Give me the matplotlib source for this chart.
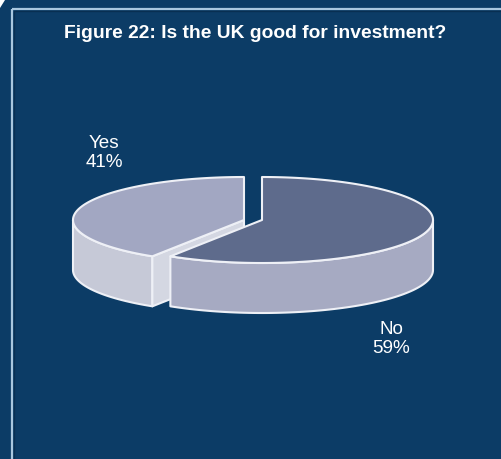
import numpy as np
import matplotlib
matplotlib.use("Agg")
import matplotlib.pyplot as plt
from matplotlib.patches import Polygon, Rectangle

plt.rcParams['font.family'] = ['Liberation Sans', 'DejaVu Sans']

title = "Figure 22: Is the UK good for investment?"
labels = ["Yes", "No"]
values = [41, 59]

bg = "#0c3c66"
top_colors = ["#a2a7c2", "#5e6b8c"]
side_colors = ["#c6c9d7", "#a6aac2"]
face_colors = ["#d4d7e2", "#b4b8cc"]
edge = "#eef0f6"

W, H = 501, 459
fig = plt.figure(figsize=(W / 100, H / 100), dpi=100)
fig.patch.set_facecolor(bg)
ax = fig.add_axes([0, 0, 1, 1])
ax.set_xlim(0, W)
ax.set_ylim(H, 0)
ax.axis("off")

# frame around the panel
ax.add_patch(Rectangle((12, 9), W, H, fill=False, ec="#a9c7df", lw=1.6))
ax.add_patch(Rectangle((14, 11), W, H, fill=False, ec="#082f52", lw=1.0))
ax.add_patch(Polygon([(0, 0), (5, 0), (0, 8)], closed=True, fc="white", ec="none"))

ax.text(255, 33, title, color="white", fontsize=13.9, fontweight="bold",
        ha="center", va="center")

# pie geometry (screen pixels, y down)
cx, cy = 262, 220
a, b = 171, 43
depth = 50
explode = [18, 0]


def pt(x0, th, dy=0):
    return (x0 + a * np.cos(th), cy - b * np.sin(th) + dy)


total = sum(values)
start = np.deg2rad(90)
spans = []
for v in values:
    ext = 2 * np.pi * v / total
    spans.append((start, start + ext))
    start += ext

for i, (t1, t2) in enumerate(spans):
    x0 = cx - explode[i]
    # outer wall, front half only
    lo, hi = max(t1, np.pi), min(t2, 2 * np.pi)
    if hi > lo:
        th = np.linspace(lo, hi, 80)
        upper = [pt(x0, t) for t in th]
        lower = [pt(x0, t, depth) for t in th[::-1]]
        ax.add_patch(Polygon(upper + lower, closed=True, fc=side_colors[i],
                             ec=edge, lw=1.5, joinstyle="round"))
    # radial cut face at the end angle when it faces the viewer
    if np.sin(t2 + np.pi / 2) < 0:
        p = pt(x0, t2)
        face = [(x0, cy), p, (p[0], p[1] + depth), (x0, cy + depth)]
        ax.add_patch(Polygon(face, closed=True, fc=face_colors[i],
                             ec=edge, lw=1.5, joinstyle="round"))
    # top surface
    th = np.linspace(t1, t2, 200)
    top = [(x0, cy)] + [pt(x0, t) for t in th]
    ax.add_patch(Polygon(top, closed=True, fc=top_colors[i],
                         ec=edge, lw=1.5, joinstyle="round"))

label_pos = [(104, 153), (391, 339)]
for lab, v, (lx, ly) in zip(labels, values, label_pos):
    ax.text(lx, ly, f"{lab}\n{v}%", color="white", fontsize=13.6,
            ha="center", va="center", linespacing=1.22)

fig.savefig("out.png", dpi=100, facecolor=bg)
